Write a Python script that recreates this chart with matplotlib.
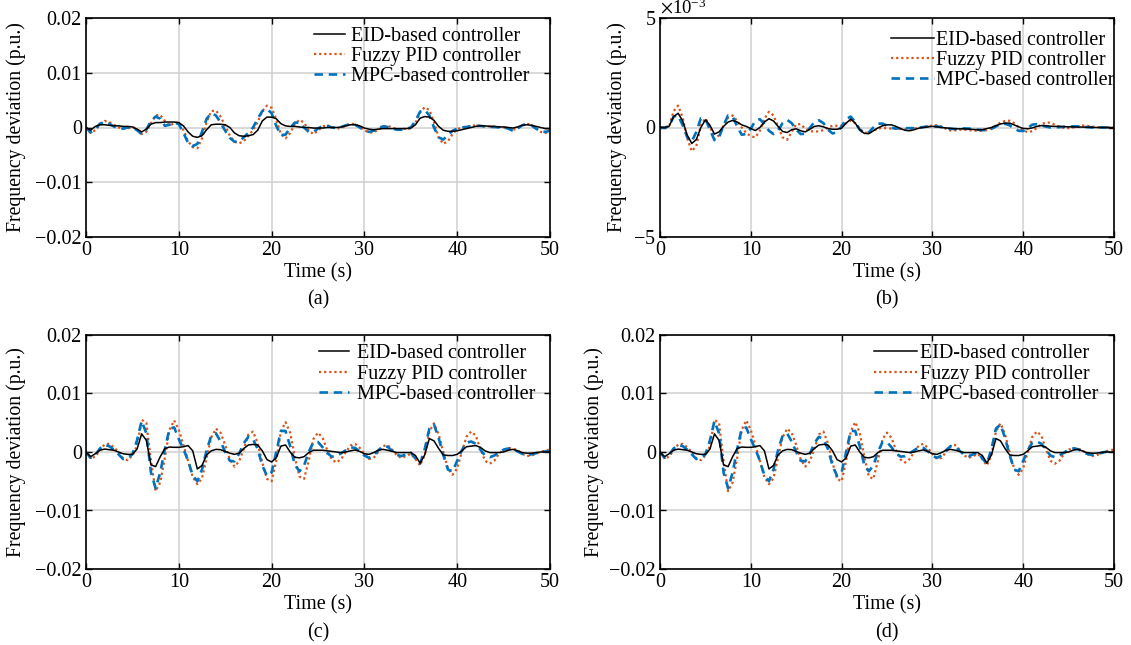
import matplotlib.pyplot as plt
import numpy as np
from matplotlib.ticker import ScalarFormatter

plt.rcParams['font.family'] = ['Liberation Serif', 'DejaVu Serif']
plt.rcParams['mathtext.fontset'] = 'stix'

# time grid (s), values in units of 1e-3 p.u.
t = np.arange(0, 50.5, 0.5)

eid_a = [0, -0.5, 0.2, 0.5, 0.5, 0.4, 0.3, 0.3, 0.2, 0.2, 0.1, -0.3, -0.8, -0.3, 0.6, 0.9, 0.9, 1.0, 1.0, 1.0,
         0.9, 0.3, -0.8, -1.6, -1.8, -1.5, -0.4, 0.5, 0.6, 0.6, 0.5, 0.0, -1.0, -1.5, -1.6, -1.5, -1.3, -0.5, 1.2, 1.9,
         1.9, 1.6, 0.7, 0.3, 0.2, 0.2, 0.1, 0.0, 0.0, -0.1, -0.1, -0.1, 0.0, 0.0, 0.0, 0.1, 0.3, 0.5, 0.5, 0.3,
         -0.1, -0.3, -0.4, -0.3, -0.2, -0.2, -0.2, -0.2, -0.2, -0.2, -0.1, 0.5, 1.7, 2.0, 1.9, 1.3, 0.2, -0.5, -0.7, -0.7,
         -0.6, -0.4, -0.2, 0.0, 0.2, 0.3, 0.3, 0.2, 0.2, 0.1, 0.1, 0.0, -0.1, 0.1, 0.4, 0.5, 0.4, 0.2, 0.0, -0.2,
         -0.2]
fuzzy_a = [0, -1.0, -0.5, 0.5, 1.2, 1.0, 0.5, 0.0, -0.2, -0.2, 0.1, -0.3, -1.2, -0.8, 0.8, 2.2, 2.3, 1.2, 0.3, 0.8,
           0.9, -0.5, -2.5, -3.6, -3.8, -2.0, 1.0, 3.0, 3.1, 2.0, 0.3, -1.5, -2.6, -2.9, -2.5, -1.5, -0.5, 1.0, 3.0, 4.0,
           3.6, 1.5, -1.2, -2.0, -1.0, 0.6, 1.4, 0.9, -0.5, -1.2, -0.6, 0.2, 0.4, 0.1, -0.2, -0.1, 0.3, 0.7, 0.6, 0.1,
           -0.5, -0.9, -0.9, -0.4, 0.2, 0.3, 0.0, -0.3, -0.3, -0.2, -0.2, 0.8, 2.8, 3.7, 3.2, 1.0, -1.8, -3.0, -2.5, -1.2,
           -0.3, 0.0, 0.2, 0.3, 0.4, 0.3, 0.2, 0.2, 0.1, 0.1, 0.0, -0.1, -0.4, -0.2, 0.4, 0.7, 0.5, -0.2, -0.8, -1.0,
           -0.8]
mpc_a = [0, -0.9, -0.3, 0.7, 1.0, 0.7, 0.2, -0.2, -0.2, 0.0, 0.1, -0.5, -1.2, -0.4, 1.2, 2.0, 1.6, 0.3, 0.5, 0.9,
         0.6, -1.0, -2.8, -3.4, -3.0, -0.8, 1.6, 2.6, 2.2, 0.9, -0.6, -1.9, -2.6, -2.5, -1.8, -1.0, 0.0, 1.6, 3.0, 3.4,
         2.6, 0.3, -1.4, -1.3, -0.1, 0.9, 0.9, 0.0, -0.8, -0.8, -0.2, 0.3, 0.3, 0.0, -0.1, 0.1, 0.4, 0.6, 0.5, 0.0,
         -0.5, -0.8, -0.6, -0.1, 0.2, 0.1, -0.2, -0.4, -0.4, -0.2, 0.0, 1.2, 2.9, 3.2, 2.2, 0.0, -1.8, -2.2, -1.4, -0.6,
         -0.2, 0.0, 0.1, 0.2, 0.3, 0.3, 0.2, 0.1, 0.1, 0.0, 0.0, -0.2, -0.6, -0.2, 0.4, 0.6, 0.4, -0.2, -0.7, -0.8,
         -0.6]

eid_b = [0, 0, 0.05, 0.5, 0.65, 0.3, -0.35, -0.73, -0.55, 0.0, 0.35, 0.1, -0.3, -0.2, 0.05, 0.25, 0.32, 0.25, 0.12, 0.05,
         -0.05, -0.14, 0.0, 0.25, 0.4, 0.3, 0.05, -0.18, -0.23, -0.1, -0.06, -0.15, -0.2, -0.08, 0.05, 0.08, 0.03, -0.05, -0.08, -0.08,
         -0.03, 0.2, 0.38, 0.2, -0.1, -0.27, -0.28, -0.15, -0.02, 0.08, 0.12, 0.12, 0.05, -0.05, -0.13, -0.15, -0.1, -0.03, 0.0, 0.03,
         0.05, 0.03, 0.0, -0.02, -0.04, -0.06, -0.06, -0.06, -0.07, -0.09, -0.1, -0.1, -0.05, 0.0, 0.08, 0.16, 0.2, 0.2, 0.12, 0.03,
         -0.04, -0.06, -0.02, 0.05, 0.09, 0.08, 0.06, 0.05, 0.05, 0.04, 0.03, 0.03, 0.02, 0.02, 0.01, 0.01, 0.0, 0.0, 0.0, 0.0,
         0.0]
fuzzy_b = [0, 0, 0.05, 0.75, 1.0, 0.45, -0.5, -1.08, -0.85, 0.1, 0.42, 0.05, -0.53, -0.35, 0.1, 0.45, 0.55, 0.3, 0.0, -0.25,
           -0.4, -0.45, -0.15, 0.4, 0.72, 0.55, 0.05, -0.45, -0.56, -0.2, 0.15, 0.15, -0.05, -0.17, -0.18, -0.18, -0.12, 0.0, 0.08, 0.08,
           0.08, 0.2, 0.32, 0.2, -0.05, -0.24, -0.25, -0.15, -0.04, -0.02, -0.04, -0.05, -0.05, -0.06, -0.08, -0.08, -0.05, 0.0, 0.03, 0.06,
           0.09, 0.1, 0.04, -0.06, -0.14, -0.13, -0.1, -0.1, -0.12, -0.14, -0.15, -0.15, -0.12, -0.02, 0.1, 0.22, 0.3, 0.31, 0.2, 0.02,
           -0.14, -0.21, -0.17, -0.02, 0.15, 0.23, 0.22, 0.12, 0.03, -0.02, -0.03, 0.0, 0.05, 0.09, 0.08, 0.05, 0.02, 0.0, 0.0, 0.0,
           0.0]
mpc_b = [0, 0, 0.05, 0.5, 0.55, 0.1, -0.45, -0.64, -0.2, 0.42, 0.4, -0.1, -0.58, -0.45, 0.1, 0.55, 0.5, 0.05, -0.33, -0.3,
         -0.05, 0.3, 0.38, 0.15, -0.15, -0.3, -0.15, 0.2, 0.35, 0.2, -0.1, -0.3, -0.28, -0.02, 0.25, 0.33, 0.2, -0.1, -0.27, -0.22,
         0.05, 0.38, 0.5, 0.25, -0.1, -0.27, -0.22, 0.0, 0.17, 0.18, 0.08, -0.02, -0.05, -0.04, -0.03, -0.03, -0.03, 0.0, 0.02, 0.04,
         0.05, 0.05, 0.02, -0.03, -0.06, -0.07, -0.05, -0.04, -0.05, -0.07, -0.1, -0.12, -0.12, -0.06, 0.05, 0.14, 0.17, 0.1, -0.05, -0.15,
         -0.16, -0.02, 0.13, 0.15, 0.1, 0.04, 0.0, 0.0, 0.02, 0.03, 0.04, 0.05, 0.05, 0.03, 0.02, 0.0, -0.01, 0.0, 0.0, 0.0,
         0.0]

# panels (c) and (d) show the same responses
eid_c = [0, -0.8, -0.3, 0.3, 0.5, 0.4, 0.3, 0.0, -0.3, -0.4, -0.4, 0.5, 3.1, 2.0, -2.2, -2.5, -0.8, 0.6, 0.85, 0.8,
         0.8, 0.9, 1.1, 0.2, -2.9, -2.3, -0.5, 0.2, 0.45, 0.4, 0.1, -0.2, -0.4, -0.2, 0.6, 1.2, 1.3, 1.2, 0.2, -1.3,
         -1.7, -1.0, 1.0, 1.2, 0.0, -0.9, -1.0, -0.8, -0.1, 0.3, 0.3, 0.3, 0.2, 0.1, 0.0, -0.1, 0.0, 0.2, 0.35, 0.1,
         -0.3, -0.4, -0.1, 0.3, 0.45, 0.3, 0.1, -0.1, -0.1, -0.1, -0.1, -0.6, -1.9, -0.5, 2.3, 1.9, 0.6, -0.5, -0.6, -0.6,
         -0.4, 0.2, 0.9, 1.0, 1.1, 0.8, 0.2, -0.1, -0.1, -0.1, 0.0, 0.3, 0.45, 0.2, -0.1, -0.2, -0.2, -0.1, 0.0, 0.0,
         0.0]
fuzzy_c = [0, -1.1, -0.8, 0.3, 1.3, 1.4, 0.8, 0.0, -1.1, -1.4, -0.6, 1.0, 5.5, 5.0, -1.5, -6.7, -5.2, -1.0, 3.8, 5.4,
           3.8, 1.2, -1.5, -4.3, -5.5, -4.5, -1.0, 2.5, 4.0, 3.3, 1.2, -1.3, -2.5, -1.6, 0.5, 3.0, 3.5, 1.5, -1.8, -4.6,
           -5.0, -1.5, 3.5, 5.1, 3.3, -0.8, -4.2, -4.6, -1.5, 2.2, 3.3, 2.4, 0.3, -1.3, -1.8, -1.2, 0.0, 1.1, 1.4, 0.7,
           -0.3, -1.2, -1.0, 0.0, 1.0, 1.2, 0.4, -0.6, -1.0, -0.7, -0.3, -1.2, -2.3, -0.5, 3.5, 4.9, 3.0, 0.0, -2.8, -3.9,
           -2.8, 0.0, 2.6, 3.5, 2.8, 0.5, -1.5, -2.0, -1.5, -0.3, 0.4, 0.7, 0.6, 0.3, -0.3, -0.7, -0.6, -0.3, 0.0, 0.3,
           0.4]
mpc_c = [0, -1.0, -0.5, 0.6, 1.2, 1.0, 0.4, -0.4, -1.2, -1.0, -0.4, 2.0, 5.3, 3.2, -3.5, -6.2, -3.5, 0.5, 4.0, 4.2,
         2.2, 0.5, -1.5, -4.0, -5.0, -3.0, 0.3, 2.8, 3.2, 1.8, 0.0, -1.5, -1.6, -0.3, 1.5, 2.6, 2.2, 0.5, -2.3, -4.1,
         -3.5, 0.0, 3.6, 3.6, 1.0, -2.2, -3.3, -2.3, 0.0, 1.7, 1.7, 0.8, -0.2, -0.8, -0.7, -0.2, 0.3, 0.8, 0.7, 0.1,
         -0.6, -1.0, -0.6, 0.3, 1.0, 0.9, 0.2, -0.5, -0.7, -0.4, -0.1, -1.1, -2.0, 0.5, 4.0, 4.7, 2.4, -0.5, -3.0, -3.3,
         -1.5, 0.3, 1.6, 1.8, 1.4, 0.4, -0.6, -0.9, -0.6, -0.1, 0.4, 0.6, 0.5, 0.1, -0.3, -0.5, -0.4, -0.2, 0.0, 0.1,
         0.1]

labels = ['EID-based controller', 'Fuzzy PID controller', 'MPC-based controller']
colors = ['black', '#D95319', '#0072BD']
panel_tags = ['(a)', '(b)', '(c)', '(d)']

FS = 14.5
FS_YLAB = 14.2

fig = plt.figure(figsize=(11.31, 6.45), dpi=100)
W, H = 1131, 645


def add_axes(left, right, top, bottom):
    return fig.add_axes([left / W, 1 - bottom / H, (right - left) / W, (bottom - top) / H])


def draw_panel(ax, series, tag, big_scale, ylab_x, leg_anchor, handlelen, textpad, tag_y):
    eid, fuzzy, mpc = [np.array(s) * 1e-3 for s in series]
    ax.plot(t, eid, color=colors[0], lw=1.1, ls='-', label=labels[0], zorder=3)
    ax.plot(t, fuzzy, color=colors[1], lw=1.6, ls=(0, (1, 1.3)), label=labels[1], zorder=2)
    ax.plot(t, mpc, color=colors[2], lw=1.9, ls=(0, (3.2, 2.2)), label=labels[2], zorder=2)

    ax.set_xlim(0, 50)
    ax.set_xticks(np.arange(0, 51, 10))
    if big_scale:
        ax.set_ylim(-0.02, 0.02)
        ax.set_yticks([-0.02, -0.01, 0, 0.01, 0.02])
        ax.set_yticklabels(['\u22120.02', '\u22120.01', '0', '0.01', '0.02'])
    else:
        ax.set_ylim(-0.005, 0.005)
        ax.set_yticks([-0.005, 0, 0.005])
        fmt = ScalarFormatter(useMathText=True)
        fmt.set_powerlimits((-2, 2))
        ax.yaxis.set_major_formatter(fmt)
        ax.yaxis.get_offset_text().set_fontsize(FS - 1)

    ax.grid(True, color='#cfcfcf', lw=1.1)
    ax.set_axisbelow(True)
    ax.tick_params(direction='in', length=4, width=1, top=True, right=True, labelsize=FS, pad=3)
    for sp in ax.spines.values():
        sp.set_linewidth(1.2)

    ax.set_xlabel('Time (s)', fontsize=FS, labelpad=2)
    ax.set_ylabel('Frequency deviation (p.u.)', fontsize=FS_YLAB)
    ax.yaxis.set_label_coords(ylab_x, 0.5)

    ax.legend(loc='upper right', bbox_to_anchor=leg_anchor, frameon=False, fontsize=FS,
              handlelength=handlelen, handletextpad=textpad, labelspacing=0.05, borderaxespad=0,
              borderpad=0)
    ax.text(0.5, tag_y, tag, transform=ax.transAxes, ha='center', va='center', fontsize=FS)


ax_a = add_axes(86, 550, 18, 237)
ax_b = add_axes(660, 1114, 18, 237)
ax_c = add_axes(86, 550, 335, 569)
ax_d = add_axes(660, 1114, 335, 569)

draw_panel(ax_a, [eid_a, fuzzy_a, mpc_a], panel_tags[0], True, -0.129, (0.955, 0.96), 1.5, 0.3, -0.288)
draw_panel(ax_b, [eid_b, fuzzy_b, mpc_b], panel_tags[1], False, -0.073, (1.0, 0.94), 2.1, 0.1, -0.288)
draw_panel(ax_c, [eid_c, fuzzy_c, mpc_c], panel_tags[2], True, -0.129, (0.968, 0.96), 1.5, 0.4, -0.274)
draw_panel(ax_d, [eid_c, fuzzy_c, mpc_c], panel_tags[3], True, -0.123, (0.965, 0.96), 2.1, 0.15, -0.274)

fig.savefig('out.png', dpi=100)
